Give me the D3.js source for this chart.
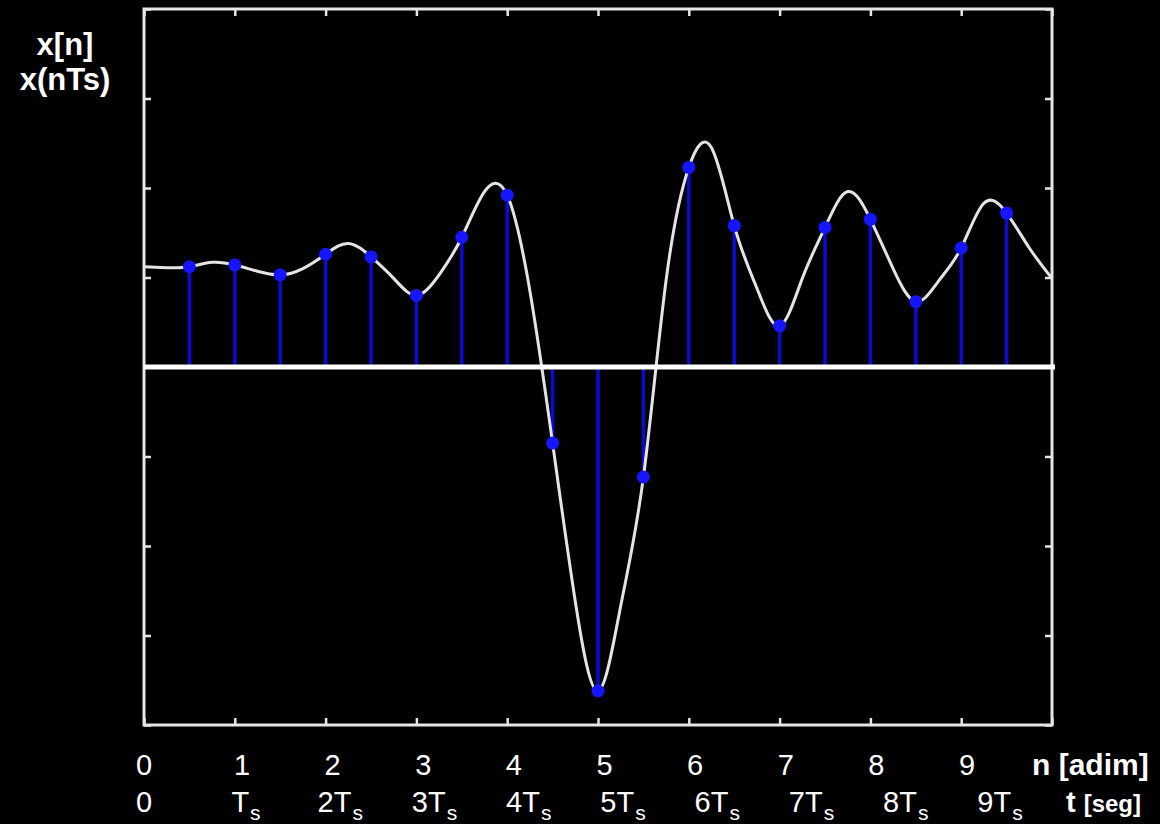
<!DOCTYPE html>
<html>
<head>
<meta charset="utf-8">
<script src="https://cdn.jsdelivr.net/npm/d3@7"></script>
<style>
  html, body { margin: 0; padding: 0; background: #000; }
  svg { display: block; }
  text { font-family: "Liberation Sans", Arial, sans-serif; fill: #fff; }
</style>
</head>
<body>
<svg id="chart"></svg>
<script>
// Constants
const width = 1160;
const height = 824;
const frame = { left: 144, right: 1052, top: 9, bottom: 725 };

// Samples x[n] (taken every half step)
const sampleN = [0.5, 1, 1.5, 2, 2.5, 3, 3.5, 4, 4.5, 5, 5.5, 6, 6.5, 7, 7.5, 8, 8.5, 9, 9.5];
const sampleValue = [1.12, 1.14, 1.03, 1.26, 1.23, 0.80, 1.45, 1.92, -0.85, -3.62, -1.23,
                     2.23, 1.58, 0.46, 1.56, 1.65, 0.73, 1.33, 1.72];

// Continuous signal x(t), every quarter step
const curveT = [0, 0.25, 0.5, 0.75, 1, 1.25, 1.5, 1.75, 2, 2.25, 2.5, 2.75, 3, 3.25, 3.5, 3.75,
                4, 4.25, 4.5, 4.75, 5, 5.25, 5.5, 5.75, 6, 6.25, 6.5, 6.75, 7,
                7.25, 7.5, 7.75, 8, 8.25, 8.5, 8.75, 9, 9.25, 9.5, 9.75, 10];
const curveValue = [1.12, 1.11, 1.12, 1.17, 1.14, 1.07, 1.03, 1.10, 1.26, 1.38, 1.23, 0.99, 0.80, 1.03,
                    1.45, 1.96, 1.92, 0.85, -0.85, -2.62, -3.62, -2.67, -1.23, 0.97,
                    2.23, 2.45, 1.58, 0.88, 0.46, 0.99, 1.56, 1.96, 1.65, 1.10, 0.73, 0.96,
                    1.33, 1.83, 1.72, 1.33, 0.99];

// Tick labels
const nLabels = ["0", "1", "2", "3", "4", "5", "6", "7", "8", "9"];
const tLabels = ["0", "", "2", "3", "4", "5", "6", "7", "8", "9"];

const svg = d3.select("#chart")
  .attr("width", width)
  .attr("height", height)
  .attr("viewBox", [0, 0, width, height]);

svg.append("rect")
  .attr("width", width)
  .attr("height", height)
  .attr("fill", "#000");

// Scales
const x = d3.scaleLinear().domain([0, 10]).range([frame.left, frame.right]);
const y = d3.scaleLinear().domain([-4, 4]).range([frame.bottom, frame.top]);

// Label positions drift a little from the ticks in the original
const nLabelX = d3.scaleLinear().domain([1, 9]).range([242, 967]);
const tLabelX = d3.scaleLinear().domain([1, 9]).range([246, 1000]);

/**
 * Draws inward ticks on all four sides of the frame
 */
function renderFrame() {
  const xTicks = d3.range(0, 11);
  const yTicks = d3.range(-4, 5);
  const tickLen = 7;

  const sides = [
    { axis: d3.axisTop(x).tickValues(xTicks), t: `translate(0,${frame.bottom})` },
    { axis: d3.axisBottom(x).tickValues(xTicks), t: `translate(0,${frame.top})` },
    { axis: d3.axisRight(y).tickValues(yTicks), t: `translate(${frame.left},0)` },
    { axis: d3.axisLeft(y).tickValues(yTicks), t: `translate(${frame.right},0)` }
  ];

  sides.forEach(s => {
    const g = svg.append("g")
      .attr("transform", s.t)
      .call(s.axis.tickSize(tickLen).tickFormat(""));
    g.select(".domain").remove();
    g.selectAll(".tick line")
      .attr("stroke", "#e6e6e6")
      .attr("stroke-width", 2.5);
  });

  svg.append("rect")
    .attr("x", frame.left)
    .attr("y", frame.top)
    .attr("width", frame.right - frame.left)
    .attr("height", frame.bottom - frame.top)
    .attr("fill", "none")
    .attr("stroke", "#e6e6e6")
    .attr("stroke-width", 3);
}

/**
 * Draws stems, continuous curve and sample dots
 */
function renderSignal() {
  const samples = sampleN.map((n, i) => ({ n, v: sampleValue[i] }));
  const curvePts = curveT.map((t, i) => [t, curveValue[i]]);

  svg.append("g")
    .selectAll("line")
    .data(samples)
    .join("line")
      .attr("x1", d => x(d.n))
      .attr("x2", d => x(d.n))
      .attr("y1", y(0))
      .attr("y2", d => y(d.v))
      .attr("stroke", "#0a0ad2")
      .attr("stroke-width", 3.5);

  const line = d3.line()
    .x(d => x(d[0]))
    .y(d => y(d[1]))
    .curve(d3.curveNatural);

  svg.append("path")
    .datum(curvePts)
    .attr("d", line)
    .attr("fill", "none")
    .attr("stroke", "#e4e4e4")
    .attr("stroke-width", 3);

  // zero axis
  svg.append("line")
    .attr("x1", frame.left)
    .attr("x2", frame.right + 3)
    .attr("y1", y(0))
    .attr("y2", y(0))
    .attr("stroke", "#fff")
    .attr("stroke-width", 5);

  svg.append("g")
    .selectAll("circle")
    .data(samples)
    .join("circle")
      .attr("cx", d => x(d.n))
      .attr("cy", d => y(d.v))
      .attr("r", 6.5)
      .attr("fill", "#1515ff");
}

/**
 * Draws axis titles and the two rows of tick labels
 */
function renderLabels() {
  svg.append("text")
    .attr("x", 65).attr("y", 55)
    .attr("text-anchor", "middle")
    .attr("font-size", 31).attr("font-weight", "bold")
    .text("x[n]");
  svg.append("text")
    .attr("x", 65).attr("y", 90)
    .attr("text-anchor", "middle")
    .attr("font-size", 31).attr("font-weight", "bold")
    .text("x(nTs)");

  svg.append("g")
    .selectAll("text")
    .data(nLabels)
    .join("text")
      .attr("x", (d, i) => i === 0 ? x(0) : nLabelX(i))
      .attr("y", 775)
      .attr("text-anchor", "middle")
      .attr("font-size", 29)
      .text(d => d);

  const tText = svg.append("g")
    .selectAll("text")
    .data(tLabels)
    .join("text")
      .attr("x", (d, i) => i === 0 ? x(0) : tLabelX(i))
      .attr("y", 812)
      .attr("text-anchor", "middle")
      .attr("font-size", 29);

  tText.each(function(d, i) {
    const t = d3.select(this);
    if (i === 0) { t.text(d); return; }
    t.append("tspan").text(d + "T");
    t.append("tspan")
      .attr("font-size", 21)
      .attr("dy", 8)
      .attr("dx", 1)
      .text("s");
  });

  svg.append("text")
    .attr("x", 1032).attr("y", 775)
    .attr("font-size", 30).attr("font-weight", "bold")
    .text("n [adim]");

  const tseg = svg.append("text")
    .attr("x", 1066).attr("y", 812)
    .attr("font-weight", "bold");
  tseg.append("tspan").attr("font-size", 29).text("t");
  tseg.append("tspan").attr("font-size", 24).attr("dx", 8).text("[seg]");
}

renderFrame();
renderSignal();
renderLabels();
</script>
</body>
</html>
